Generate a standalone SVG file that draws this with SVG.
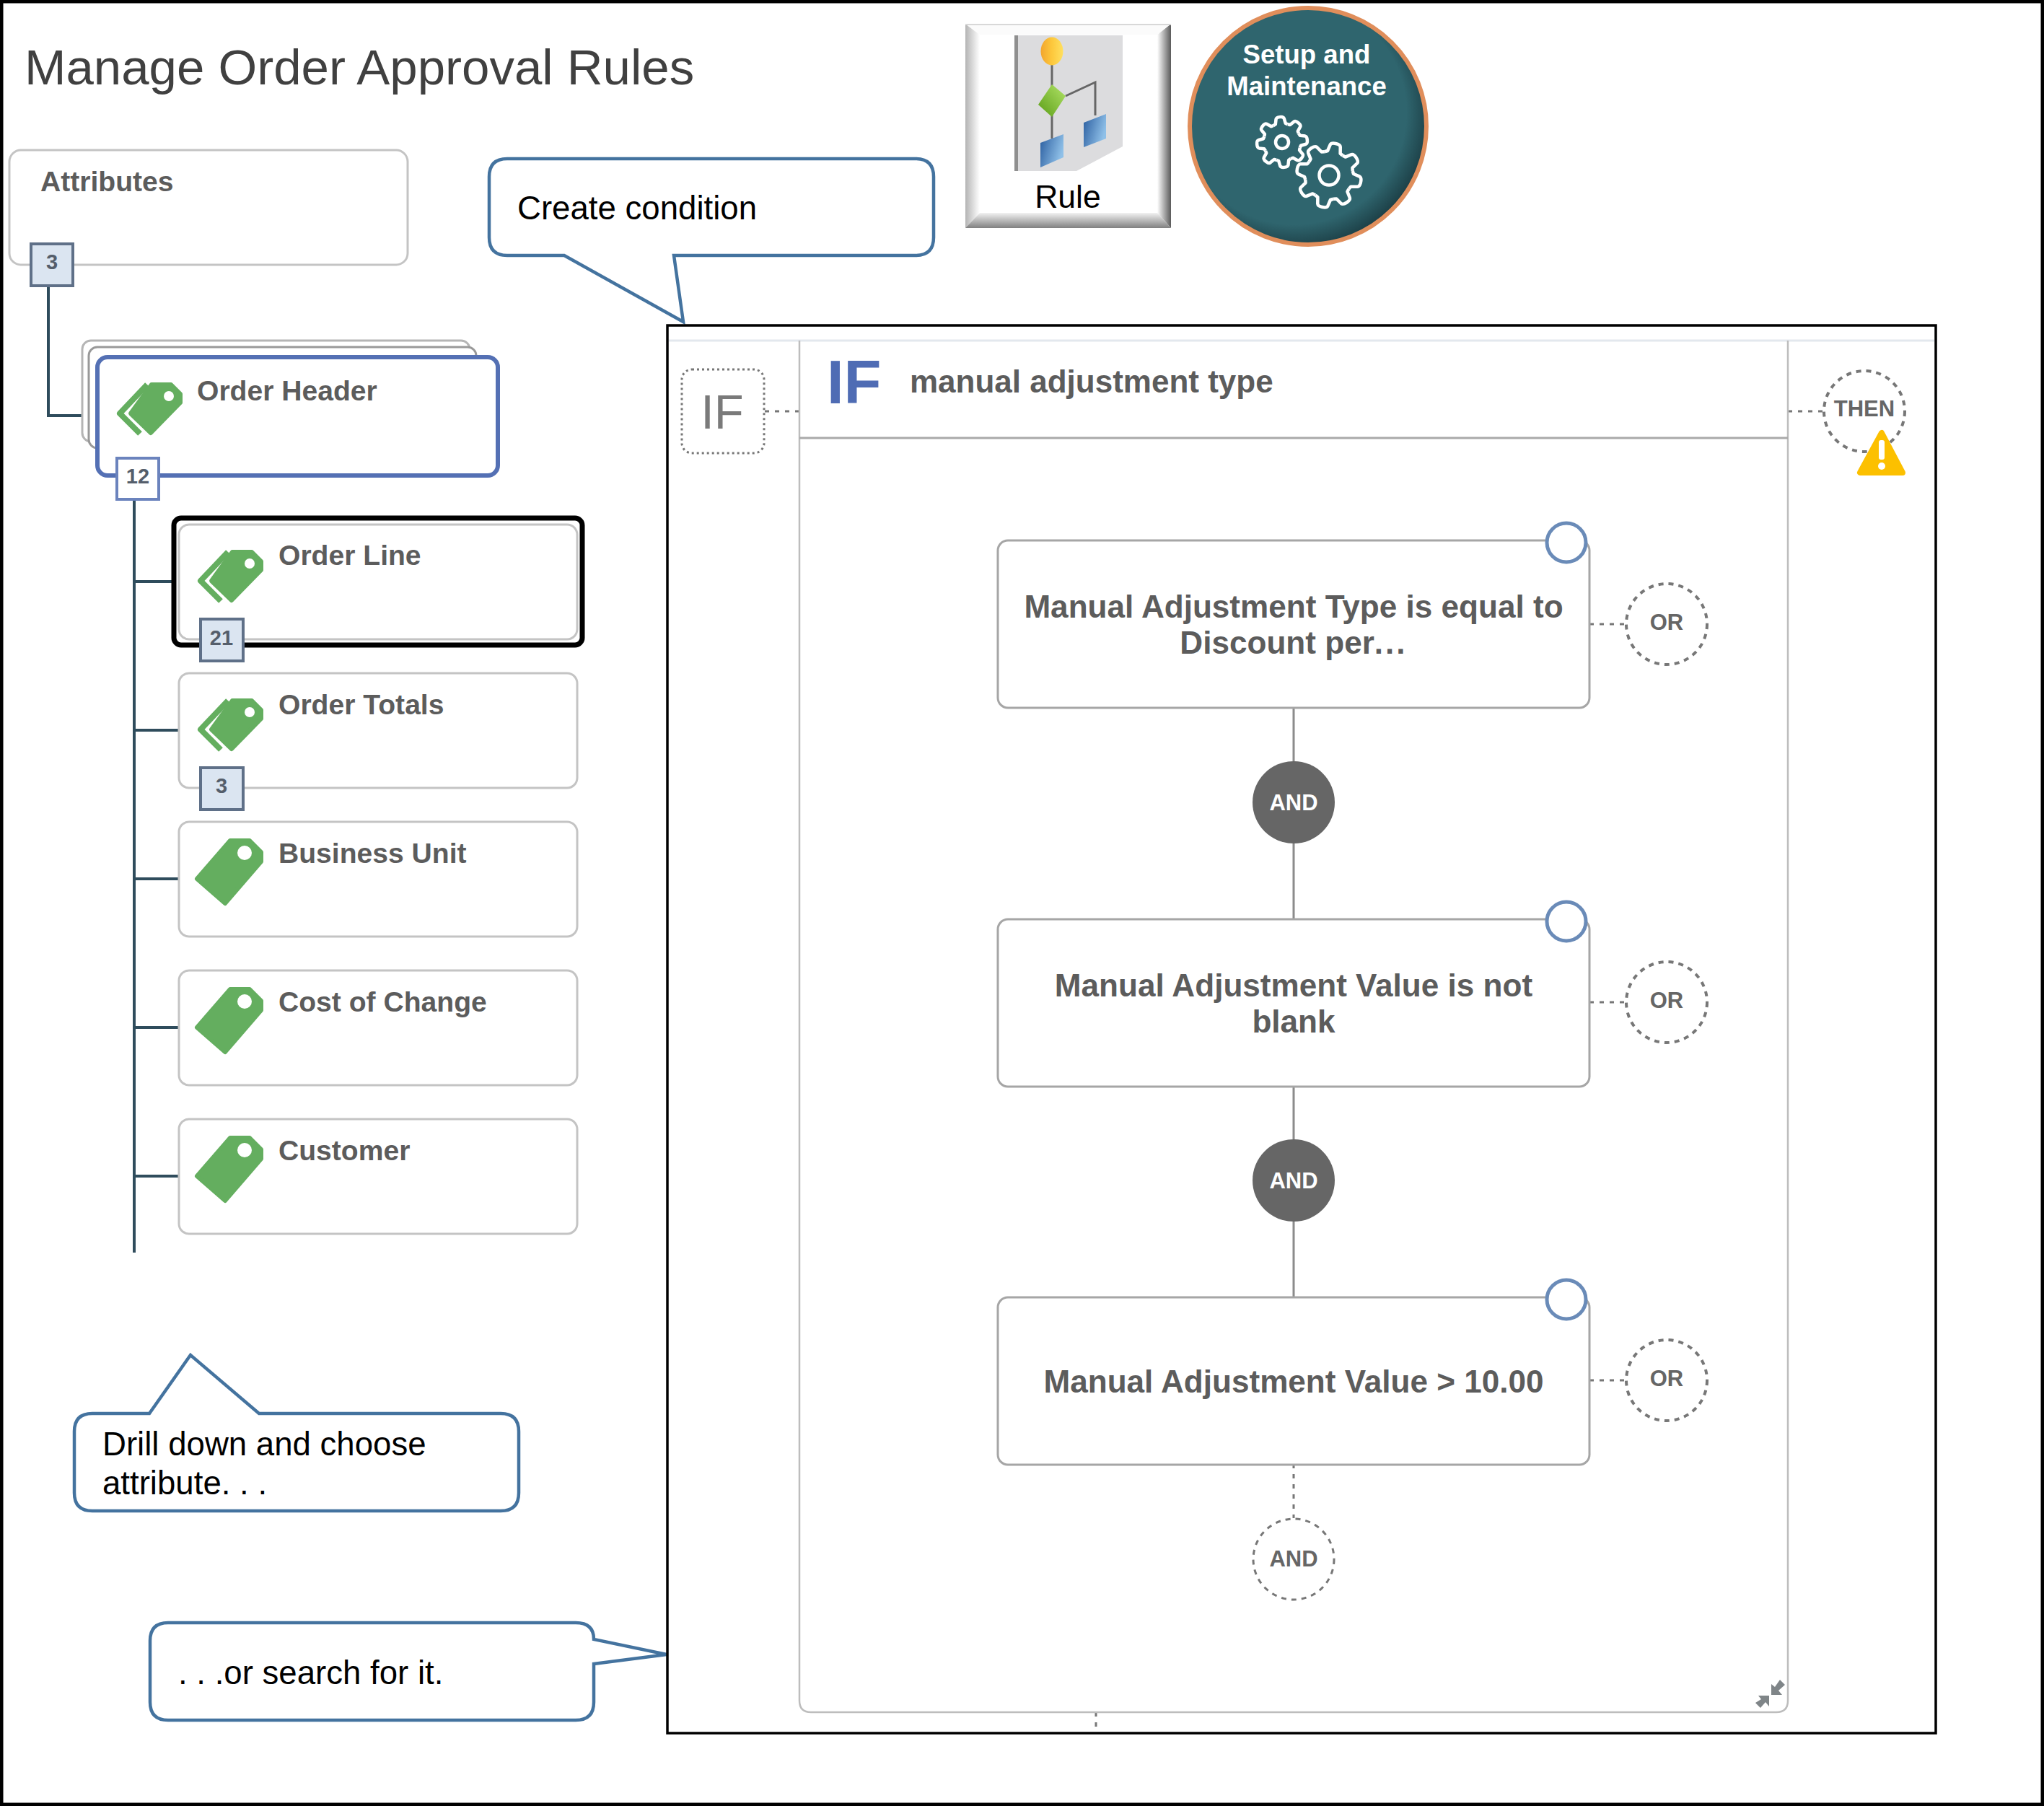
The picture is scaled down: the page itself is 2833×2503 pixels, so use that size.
<svg xmlns="http://www.w3.org/2000/svg" xmlns:xlink="http://www.w3.org/1999/xlink" width="2833" height="2503" viewBox="0 0 2833 2503">
<style>
text{font-family:"Liberation Sans",Arial,sans-serif}
.b{font-weight:bold;fill:#5c5c5c}
.nt{font-size:39.1px}
.rt{font-size:44.1px;text-anchor:middle}
.cl{font-size:45.6px;fill:#000}
.box{fill:#fff;stroke:#c4c4c4;stroke-width:3}
.rbox{fill:#fff;stroke:#a6a6a6;stroke-width:3}
.badge{fill:#dbe5f1;stroke:#5f7088;stroke-width:4}
.bt{font-size:29px;font-weight:bold;fill:#555e6b;text-anchor:middle}
.conn{fill:none;stroke:#2f4c5c;stroke-width:4}
.solid{fill:none;stroke:#8c8c8c;stroke-width:3}
.dot{fill:none;stroke:#777;stroke-width:3;stroke-dasharray:6 8}
.dc{fill:#fff;stroke:#777;stroke-width:4;stroke-dasharray:7 7}
.anc{fill:#fff;stroke:#6a8bb8;stroke-width:5}
.call{fill:#fff;stroke:#44739f;stroke-width:4.5;stroke-linejoin:miter}
.tag{fill:#64ae5f;stroke:#64ae5f;stroke-width:6;stroke-linejoin:round}
.tb{fill:none;stroke:#64ae5f;stroke-width:8;stroke-linejoin:round}
.ot{font-size:31px;font-weight:bold;fill:#666;text-anchor:middle}
.gs{fill:none;stroke:#fff;stroke-width:4.5;vector-effect:non-scaling-stroke;stroke-linejoin:round}
</style>
<defs>
<g id="tagS"><path class="tag" d="M319 1165H346L362 1181V1194L312 1252L273 1218Z"/><circle cx="339" cy="1182" r="10" fill="#fff"/></g>
<g id="tagD"><path class="tb" d="M316 765L278 805L306 833"/><path class="tag" d="M322 765H349L362 778V790L321 832L293 805Z"/><circle cx="346" cy="781" r="7" fill="#fff"/></g>
<path id="tooth" class="gs" d="M68.4 -28.3L73 -20L93 -16Q100 -14 100 0Q100 14 93 16L73 20L68.4 28.3"/>
<g id="gear"><circle r="88" fill="#2f656e"/><use href="#tooth"/><use href="#tooth" transform="rotate(45)"/><use href="#tooth" transform="rotate(90)"/><use href="#tooth" transform="rotate(135)"/><use href="#tooth" transform="rotate(180)"/><use href="#tooth" transform="rotate(225)"/><use href="#tooth" transform="rotate(270)"/><use href="#tooth" transform="rotate(315)"/></g>
<linearGradient id="bl" x1="0" x2="1" y1="0" y2="0"><stop offset="0" stop-color="#b4b4b4"/><stop offset="1" stop-color="#fff"/></linearGradient>
<linearGradient id="br" x1="0" x2="1" y1="0" y2="0"><stop offset="0" stop-color="#fff"/><stop offset="1" stop-color="#5a5a5a"/></linearGradient>
<linearGradient id="bb" x1="0" x2="0" y1="0" y2="1"><stop offset="0" stop-color="#f2f2f2"/><stop offset="1" stop-color="#808080"/></linearGradient>
<linearGradient id="bd" x1="0" x2="1" y1="0" y2="0.4"><stop offset="0" stop-color="#2a5d9f"/><stop offset="1" stop-color="#8fc0e8"/></linearGradient>
<linearGradient id="gd" x1="0" x2="1" y1="1" y2="0"><stop offset="0" stop-color="#5a9c16"/><stop offset="1" stop-color="#b2e468"/></linearGradient>
<linearGradient id="yd" x1="0" x2="1" y1="0" y2="0"><stop offset="0" stop-color="#f2a52e"/><stop offset="0.5" stop-color="#fdc83c"/><stop offset="1" stop-color="#ffe060"/></linearGradient>
<radialGradient id="teal" cx="0.44" cy="0.44" r="0.58"><stop offset="0.82" stop-color="#2f656e"/><stop offset="1" stop-color="#1c3f46"/></radialGradient>
</defs>
<rect width="2833" height="2503" fill="#fff"/>
<rect x="2" y="2" width="2829" height="2499" fill="none" stroke="#000" stroke-width="5"/>
<text id="title" x="34" y="117" font-size="69" fill="#404040">Manage Order Approval Rules</text>

<g id="connectors">
<path class="conn" d="M67 397V576H114"/>
<path class="conn" d="M186 693V1736M186 806H240M186 1012H248M186 1218H248M186 1424H248M186 1630H248"/>
<path class="solid" d="M1793 982V1055M1793 1169V1274M1793 1506V1579M1793 1693V1798"/>
<path class="dot" d="M1793 2029V2104M1519 2373V2398"/>
<path class="dot" d="M1060 570H1108M2478 570H2527M2203 865H2253M2203 1389H2253M2203 1913H2253"/>
</g>

<g id="rule-icon">
<rect x="1338" y="33" width="285" height="283" fill="#fff"/>
<polygon points="1338,33 1358,48 1358,295 1338,316" fill="url(#bl)"/>
<polygon points="1623,33 1604,48 1604,295 1623,316" fill="url(#br)"/>
<polygon points="1338,316 1358,295 1604,295 1623,316" fill="url(#bb)"/>
<polygon points="1338,33 1623,33 1604,48 1358,48" fill="#fbfbfb"/>
<path d="M1338 34H1623" stroke="#d8d8d8" stroke-width="2"/>
<polygon points="1406,49 1556,49 1556,203 1492,237 1406,237" fill="#dcdcde"/>
<rect x="1406" y="49" width="5" height="188" fill="#8f8f8f"/>
<path d="M1458 90V192M1477 133L1518 114V160" fill="none" stroke="#666" stroke-width="3"/>
<ellipse cx="1458" cy="71" rx="15.5" ry="19.5" fill="url(#yd)"/>
<polygon points="1458,117 1477,133 1458,162 1439,145" fill="url(#gd)"/>
<polygon points="1502,170 1533,158 1533,192 1502,204" fill="url(#bd)"/>
<polygon points="1442,198 1474,186 1474,218 1442,232" fill="url(#bd)"/>
<text x="1480" y="288" font-size="44.5" fill="#000" text-anchor="middle">Rule</text>
</g>

<g id="setup-maintenance">
<circle cx="1813" cy="175" r="164" fill="url(#teal)" stroke="#e08e5b" stroke-width="6"/>
<text x="1811" y="88" font-size="36.6" font-weight="bold" fill="#fff" text-anchor="middle">Setup and</text>
<text x="1811" y="132" font-size="36.6" font-weight="bold" fill="#fff" text-anchor="middle">Maintenance</text>
<use href="#gear" transform="translate(1777 197) rotate(-5) scale(.35)"/>
<circle class="gs" cx="1777" cy="197" r="9"/>
<use href="#gear" transform="translate(1842 243) rotate(12) scale(.45)"/>
<circle class="gs" cx="1842" cy="243" r="13.5"/>
</g>

<g id="attributes">
<rect class="box" x="13" y="208" width="552" height="159" rx="16"/>
<text class="b nt" x="56" y="265">Attributes</text>
<rect class="badge" x="43" y="338" width="58" height="58"/>
<text class="bt" x="72" y="373">3</text>
</g>

<g id="order-header">
<rect x="114" y="472" width="537" height="140" rx="12" fill="#fff" stroke="#b5b5b5" stroke-width="3"/>
<rect x="123" y="481" width="537" height="140" rx="12" fill="#fff" stroke="#999" stroke-width="3"/>
<rect x="135" y="495" width="555" height="164" rx="14" fill="#fff" stroke="#5470b4" stroke-width="6"/>
<use href="#tagD" transform="translate(-112 -232)"/>
<text class="b nt" x="273" y="555">Order Header</text>
<rect x="162" y="635" width="58" height="57" fill="#fff" stroke="#6b83bd" stroke-width="4"/>
<text class="bt" x="191" y="670">12</text>
</g>

<g id="order-line">
<rect x="241" y="718" width="566" height="176" rx="10" fill="#fff" stroke="#000" stroke-width="7"/>
<rect class="box" x="248" y="727" width="552" height="159" rx="14"/>
<use href="#tagD"/>
<text class="b nt" x="386" y="783">Order Line</text>
<rect class="badge" x="278" y="858" width="59" height="58"/>
<text class="bt" x="307" y="894">21</text>
</g>

<g id="order-totals">
<rect class="box" x="248" y="933" width="552" height="159" rx="14"/>
<use href="#tagD" transform="translate(0 206)"/>
<text class="b nt" x="386" y="990">Order Totals</text>
<rect class="badge" x="278" y="1064" width="59" height="58"/>
<text class="bt" x="307" y="1099">3</text>
</g>

<g id="business-unit">
<rect class="box" x="248" y="1139" width="552" height="159" rx="14"/>
<use href="#tagS"/>
<text class="b nt" x="386" y="1196">Business Unit</text>
</g>
<g id="cost-of-change">
<rect class="box" x="248" y="1345" width="552" height="159" rx="14"/>
<use href="#tagS" transform="translate(0 206)"/>
<text class="b nt" x="386" y="1402">Cost of Change</text>
</g>
<g id="customer">
<rect class="box" x="248" y="1551" width="552" height="159" rx="14"/>
<use href="#tagS" transform="translate(0 412)"/>
<text class="b nt" x="386" y="1608">Customer</text>
</g>

<g id="callout-create">
<path class="call" d="M703 220H1269Q1294 220 1294 245V329Q1294 354 1269 354H934L947 446L782 354H703Q678 354 678 329V245Q678 220 703 220Z"/>
<text class="cl" x="717" y="304">Create condition</text>
</g>
<g id="callout-drill">
<path class="call" d="M128 1959H207L264 1878L359 1959H694Q719 1959 719 1984V2069Q719 2094 694 2094H128Q103 2094 103 2069V1984Q103 1959 128 1959Z"/>
<text class="cl" x="142" y="2017">Drill down and choose</text>
<text class="cl" x="142" y="2071">attribute. . .</text>
</g>
<g id="callout-search">
<path class="call" d="M233 2249H798Q823 2249 823 2272L924 2293L823 2306V2359Q823 2384 798 2384H233Q208 2384 208 2359V2274Q208 2249 233 2249Z"/>
<text class="cl" x="247" y="2334">. . .or search for it.</text>
</g>

<g id="if-panel">
<rect x="925" y="451" width="1758" height="1951" fill="none" stroke="#000" stroke-width="3.5"/>
<path d="M927 472H2681" fill="none" stroke="#e3e8ee" stroke-width="3"/>
<path d="M1108 472V2357Q1108 2373 1124 2373H2462Q2478 2373 2478 2357V472" fill="none" stroke="#bdbdbd" stroke-width="2.5"/>
<path d="M1108 607H2478" fill="none" stroke="#a9a9a9" stroke-width="3"/>
<text x="1146" y="559" font-size="85" font-weight="bold" fill="#4f6cb4">IF</text>
<text class="b" x="1261" y="544" font-size="44">manual adjustment type</text>
<polygon points="2455,2334 2455,2349 2470,2349 2465,2343 2474,2335 2467,2328 2460,2338" fill="#7f8588"/>
<polygon points="2452,2350 2452,2365 2447,2359 2440,2367 2433,2360 2441,2355 2437,2350" fill="#7f8588"/>
</g>

<g id="if-node">
<rect x="945" y="512" width="114" height="116" rx="14" fill="#fff" stroke="#777" stroke-width="3" stroke-dasharray="3 4"/>
<text x="1001" y="594" font-size="67" fill="#7a7a7a" text-anchor="middle">IF</text>
</g>

<g id="then-node">
<circle class="dc" cx="2584" cy="570" r="56"/>
<text class="ot" x="2584" y="577" font-size="32">THEN</text>
<path d="M2608 600L2578 655H2637Z" fill="#fcc000" stroke="#fcc000" stroke-width="8" stroke-linejoin="round"/>
<rect x="2604" y="610" width="8" height="27" rx="3" fill="#fff"/>
<circle cx="2608" cy="646" r="5" fill="#fff"/>
</g>

<g id="cond-1">
<rect class="rbox" x="1383" y="749" width="820" height="232" rx="14"/>
<circle class="anc" cx="2171" cy="752" r="27"/>
<text class="b rt" x="1793" y="856">Manual Adjustment Type is equal to</text>
<text class="b rt" x="1793" y="906">Discount per<tspan letter-spacing="3">...</tspan></text>
</g>
<g id="or-1"><circle class="dc" cx="2310" cy="865" r="56"/><text class="ot" x="2310" y="873">OR</text></g>
<g id="and-1"><circle cx="1793" cy="1112" r="57" fill="#666"/><text class="ot" x="1793" y="1123" style="fill:#fff">AND</text></g>

<g id="cond-2">
<rect class="rbox" x="1383" y="1274" width="820" height="232" rx="14"/>
<circle class="anc" cx="2171" cy="1277" r="27"/>
<text class="b rt" x="1793" y="1381">Manual Adjustment Value is not</text>
<text class="b rt" x="1793" y="1431">blank</text>
</g>
<g id="or-2"><circle class="dc" cx="2310" cy="1389" r="56"/><text class="ot" x="2310" y="1397">OR</text></g>
<g id="and-2"><circle cx="1793" cy="1636" r="57" fill="#666"/><text class="ot" x="1793" y="1647" style="fill:#fff">AND</text></g>

<g id="cond-3">
<rect class="rbox" x="1383" y="1798" width="820" height="232" rx="14"/>
<circle class="anc" cx="2171" cy="1801" r="27"/>
<text class="b rt" x="1793" y="1930">Manual Adjustment Value &gt; 10.00</text>
</g>
<g id="or-3"><circle class="dc" cx="2310" cy="1913" r="56"/><text class="ot" x="2310" y="1921">OR</text></g>
<g id="and-3"><circle class="dc" cx="1793" cy="2161" r="56" style="stroke-width:3"/><text class="ot" x="1793" y="2171">AND</text></g>
</svg>
